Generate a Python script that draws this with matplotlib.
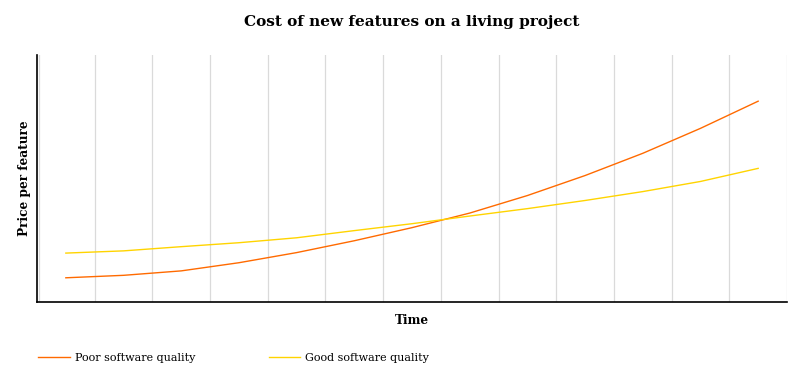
import matplotlib
matplotlib.use("Agg")
import matplotlib.pyplot as plt
from matplotlib.lines import Line2D

periods = list(range(1, 14))
poor_quality = [9.8, 10.8, 12.6, 15.9, 20.0, 24.8, 30.1, 36.0, 43.1, 51.2, 60.2, 70.3, 81.3]
good_quality = [19.8, 20.7, 22.4, 24.0, 26.0, 28.9, 31.7, 34.8, 37.8, 41.1, 44.7, 48.8, 54.1]
series_names = ["Poor software quality", "Good software quality"]
title = "Cost of new features on a living project"
x_label = "Time"
y_label = "Price per feature"

W, H = 808, 388
fig = plt.figure(figsize=(W / 100, H / 100), dpi=100)
L, R, T, B = 37, 787, 55, 302
ax = fig.add_axes([L / W, 1 - B / H, (R - L) / W, (B - T) / H])

serif = "DejaVu Serif"
xs = list(range(len(periods)))
ax.plot(xs, poor_quality, color="#FF6A00", lw=1.0, label=series_names[0])
ax.plot(xs, good_quality, color="#FFD400", lw=1.0, label=series_names[1])

ax.set_xlim(-0.5, len(periods) - 0.5)
ax.set_ylim(0, 100)
for b in range(len(periods) + 1):
    ax.axvline(b - 0.5 + (0.03 if b == 0 else 0), color="#dadada", lw=0.9, zorder=0)
ax.set_xticks([])
ax.set_yticks([])
ax.spines["top"].set_visible(False)
ax.spines["right"].set_visible(False)
ax.spines["left"].set_color("black")
ax.spines["bottom"].set_color("black")
ax.spines["left"].set_linewidth(1.2)
ax.spines["bottom"].set_linewidth(1.2)

fig.text((L + R) / 2 / W, 1 - 22 / H, title, ha="center", va="center",
         family=serif, fontweight="bold", fontsize=11)

ax.set_xlabel(x_label, family=serif, fontweight="bold", fontsize=8.7, labelpad=9)
ax.set_ylabel(y_label, family=serif, fontweight="bold", fontsize=8.7, labelpad=4.5)

handles = [Line2D([], [], color="#FF6A00", lw=1.0), Line2D([], [], color="#FFD400", lw=1.0)]
fig.legend(handles, series_names, loc="center left", bbox_to_anchor=(34 / W, 1 - 358 / H),
           ncol=2, frameon=False, prop={"family": serif, "size": 8},
           handlelength=2.85, handletextpad=0.45, columnspacing=6.6, borderaxespad=0)

fig.savefig("out.png", dpi=100, facecolor="white")
